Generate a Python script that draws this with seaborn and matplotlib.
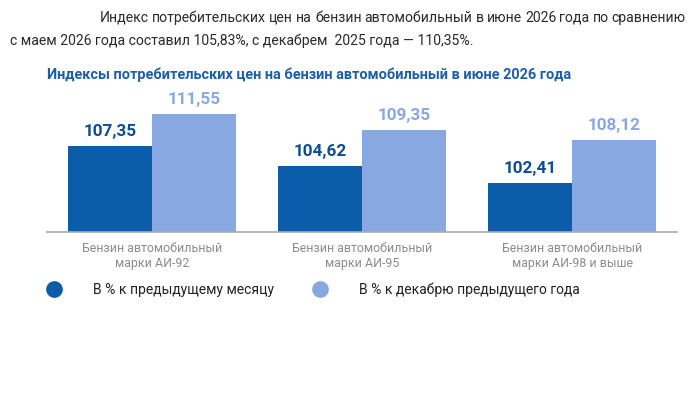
import numpy as np
import pandas as pd
import matplotlib as mpl
mpl.use("Agg")
import matplotlib.pyplot as plt
from matplotlib.lines import Line2D
import seaborn as sns

# chart data
categories = ["Бензин автомобильный\nмарки АИ-92",
              "Бензин автомобильный\nмарки АИ-95",
              "Бензин автомобильный\nмарки АИ-98 и выше"]
series = ["В % к предыдущему месяцу", "В % к декабрю предыдущего года"]
to_prev_month = [107.35, 104.62, 102.41]
to_december = [111.55, 109.35, 108.12]

header_1 = "Индекс потребительских цен на бензин автомобильный в июне 2026 года по сравнению"
header_2 = "с маем 2026 года составил 105,83%, с декабрем  2025 года — 110,35%."
title = "Индексы потребительских цен на бензин автомобильный в июне 2026 года"

dark = "#0B5DAA"
light = "#88A8E2"
label_dark = "#0E4C93"

df = pd.DataFrame({
    "cat": categories * 2,
    "series": [series[0]] * 3 + [series[1]] * 3,
    "value": to_prev_month + to_december,
})

sns.set_style("white")
plt.rcParams["font.family"] = ["Roboto", "DejaVu Sans"]

fig = plt.figure(figsize=(7, 4), dpi=100)
ax = fig.add_axes([47 / 700, 1 - 232 / 400, 630 / 700, 137 / 400])

sns.barplot(data=df, x="cat", y="value", hue="series", order=categories,
            hue_order=series, palette=[dark, light], width=0.8, gap=0,
            saturation=1, legend=False, linewidth=0, ax=ax)

ax.set_ylim(96, 114)
ax.set_xlim(-0.5, 2.5)
ax.set_xlabel("")
ax.set_ylabel("")
ax.set_yticks([])
ax.tick_params(axis="x", length=0, pad=7, labelsize=8.9, labelcolor="#8c8c8c")
for s in ["top", "right", "left"]:
    ax.spines[s].set_visible(False)
ax.spines["bottom"].set_color("#aaaaaa")
ax.spines["bottom"].set_linewidth(1.2)

# value labels
for cont, col in zip(ax.containers, [label_dark, light]):
    ax.bar_label(cont, labels=[f"{v:.2f}".replace(".", ",") for v in cont.datavalues],
                 padding=5, fontsize=12.3, fontweight="bold", color=col)

# header paragraph, first line justified between x=100 and x=686
head_size = 10.1
renderer = fig.canvas.get_renderer()
words = header_1.split()
word_txt = [fig.text(0, 1 - 18 / 400, w, fontsize=head_size, color="#2a2a2a", va="center")
            for w in words]
widths = [t.get_window_extent(renderer).width for t in word_txt]
gap = (586 - sum(widths)) / (len(words) - 1)
xpos = 100
for t, w in zip(word_txt, widths):
    t.set_x(xpos / 700)
    xpos += w + gap
fig.text(10 / 700, 1 - 41 / 400, header_2,
         fontsize=head_size, color="#2a2a2a", va="center", ha="left")

# chart title
fig.text(47 / 700, 1 - 75 / 400, title,
         fontsize=10.45, fontweight="bold", color="#1D5EA8", va="center", ha="left")

# legend
handles = [Line2D([], [], marker="o", linestyle="", markersize=11,
                  markerfacecolor=c, markeredgecolor=c) for c in [dark, light]]
fig.legend(handles, series, loc="center left", bbox_to_anchor=(35 / 700, 1 - 290 / 400),
           ncol=2, frameon=False, handlelength=1, handletextpad=2.3,
           columnspacing=2.8, fontsize=10, labelcolor="#222222")

fig.savefig("out.png", dpi=100)
